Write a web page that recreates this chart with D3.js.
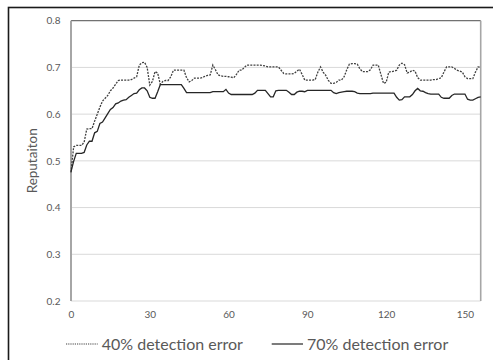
<!DOCTYPE html>
<html>
<head>
<meta charset="utf-8">
<script src="https://cdn.jsdelivr.net/npm/d3@7"></script>
<style>
  html, body { margin: 0; padding: 0; background: #fff; }
  svg { display: block; }
  text { font-family: Lato, "Open Sans", sans-serif; }
</style>
</head>
<body>
<svg id="chart" width="493" height="360"></svg>
<script>
// Reputation per round, 0..156
const rounds = d3.range(0, 157);

const rep40 = [
  0.475, 0.530, 0.533, 0.533, 0.533, 0.540, 0.568, 0.569, 0.569, 0.585,
  0.600, 0.615, 0.628, 0.634, 0.640, 0.650, 0.656, 0.664, 0.672, 0.673,
  0.673, 0.673, 0.673, 0.674, 0.677, 0.680, 0.705, 0.710, 0.711, 0.700,
  0.662, 0.670, 0.691, 0.688, 0.664, 0.670, 0.672, 0.672, 0.680, 0.694,
  0.694, 0.694, 0.694, 0.694, 0.678, 0.669, 0.672, 0.677, 0.677, 0.677,
  0.678, 0.681, 0.683, 0.684, 0.705, 0.695, 0.684, 0.682, 0.681, 0.681,
  0.680, 0.679, 0.678, 0.685, 0.694, 0.694, 0.700, 0.705, 0.705, 0.705,
  0.705, 0.705, 0.705, 0.704, 0.703, 0.701, 0.701, 0.701, 0.701, 0.701,
  0.694, 0.687, 0.686, 0.686, 0.686, 0.687, 0.692, 0.696, 0.685, 0.673,
  0.673, 0.673, 0.673, 0.674, 0.690, 0.701, 0.690, 0.683, 0.672, 0.666,
  0.666, 0.668, 0.673, 0.673, 0.680, 0.695, 0.707, 0.708, 0.708, 0.707,
  0.697, 0.691, 0.691, 0.691, 0.695, 0.705, 0.705, 0.705, 0.685, 0.666,
  0.668, 0.690, 0.691, 0.692, 0.694, 0.705, 0.709, 0.706, 0.688, 0.690,
  0.694, 0.692, 0.678, 0.673, 0.673, 0.673, 0.673, 0.673, 0.674, 0.674,
  0.676, 0.678, 0.690, 0.701, 0.701, 0.701, 0.698, 0.694, 0.692, 0.690,
  0.680, 0.676, 0.676, 0.676, 0.690, 0.701, 0.700
];

const rep70 = [
  0.477, 0.499, 0.516, 0.516, 0.516, 0.518, 0.534, 0.542, 0.542, 0.560,
  0.563, 0.580, 0.583, 0.592, 0.601, 0.610, 0.614, 0.622, 0.624, 0.628,
  0.630, 0.631, 0.636, 0.640, 0.644, 0.645, 0.652, 0.656, 0.656, 0.650,
  0.636, 0.634, 0.634, 0.648, 0.663, 0.663, 0.663, 0.663, 0.663, 0.663,
  0.663, 0.663, 0.663, 0.655, 0.646, 0.646, 0.646, 0.646, 0.646, 0.646,
  0.646, 0.646, 0.646, 0.646, 0.648, 0.648, 0.648, 0.648, 0.648, 0.653,
  0.645, 0.642, 0.642, 0.642, 0.642, 0.642, 0.642, 0.642, 0.642, 0.642,
  0.645, 0.651, 0.651, 0.651, 0.651, 0.644, 0.637, 0.637, 0.650, 0.651,
  0.651, 0.651, 0.651, 0.647, 0.642, 0.642, 0.647, 0.649, 0.649, 0.648,
  0.651, 0.651, 0.651, 0.651, 0.651, 0.651, 0.651, 0.651, 0.651, 0.651,
  0.646, 0.644, 0.646, 0.647, 0.648, 0.649, 0.649, 0.649, 0.648, 0.645,
  0.644, 0.644, 0.644, 0.644, 0.644, 0.645, 0.645, 0.645, 0.645, 0.645,
  0.645, 0.645, 0.645, 0.645, 0.636, 0.630, 0.631, 0.637, 0.637, 0.637,
  0.642, 0.650, 0.655, 0.650, 0.649, 0.646, 0.644, 0.643, 0.643, 0.643,
  0.643, 0.636, 0.634, 0.634, 0.634, 0.640, 0.643, 0.643, 0.643, 0.643,
  0.643, 0.632, 0.630, 0.630, 0.633, 0.636, 0.637
];

const yTicks = [0.2, 0.3, 0.4, 0.5, 0.6, 0.7, 0.8];
const xTicks = [0, 30, 60, 90, 120, 150];
const seriesNames = ["40% detection error", "70% detection error"];

const svg = d3.select("#chart");

// outer chart frame (only its top/left edges fall inside the view)
svg.append("rect")
  .attr("x", 8.5).attr("y", 7.5)
  .attr("width", 600).attr("height", 600)
  .attr("fill", "none")
  .attr("stroke", "#1a1a1a")
  .attr("stroke-width", 1.6);

const plotL = 71, plotR = 480.7, plotT = 20.7, plotB = 301;

const x = d3.scaleLinear().domain([0, 156]).range([plotL, plotR]);
const y = d3.scaleLinear().domain([0.2, 0.8]).range([plotB, plotT]);

// horizontal gridlines
svg.append("g")
  .selectAll("line")
  .data(yTicks)
  .join("line")
  .attr("x1", plotL).attr("x2", plotR)
  .attr("y1", d => y(d)).attr("y2", d => y(d))
  .attr("stroke", "#d9d9d9")
  .attr("stroke-width", 1);

// plot-area border: top and right edges
svg.append("line")
  .attr("x1", plotL).attr("x2", plotR)
  .attr("y1", y(0.8)).attr("y2", y(0.8))
  .attr("stroke", "#595959").attr("stroke-width", 1);
svg.append("line")
  .attr("x1", plotR).attr("x2", plotR)
  .attr("y1", plotT).attr("y2", plotB)
  .attr("stroke", "#a6a6a6").attr("stroke-width", 1.6);

// axes
const yAxis = svg.append("g")
  .attr("transform", `translate(${plotL},0)`)
  .call(d3.axisLeft(y).tickValues(yTicks).tickFormat(d3.format(".1f")).tickSize(0).tickPadding(10.5));
yAxis.select(".domain").remove();

const xAxis = svg.append("g")
  .attr("transform", `translate(0,${plotB})`)
  .call(d3.axisBottom(x).tickValues(xTicks).tickFormat(d3.format("d")).tickSize(0).tickPadding(10));
xAxis.select(".domain").remove();

svg.selectAll(".tick text")
  .attr("fill", "#595959")
  .style("font-size", "10px")
  .style("font-family", "Lato, 'Open Sans', sans-serif");

// left axis line
svg.append("line")
  .attr("x1", plotL).attr("x2", plotL)
  .attr("y1", plotT).attr("y2", plotB)
  .attr("stroke", "#a6a6a6").attr("stroke-width", 2);

// y-axis title
svg.append("text")
  .attr("transform", `translate(36.5,${(plotT + plotB) / 2}) rotate(-90)`)
  .attr("text-anchor", "middle")
  .attr("fill", "#595959")
  .style("font-size", "13.5px")
  .text("Reputaiton");

const line = d3.line()
  .x((d, i) => x(rounds[i]))
  .y(d => y(d));

svg.append("path")
  .datum(rep40)
  .attr("d", line)
  .attr("fill", "none")
  .attr("stroke", "#404040")
  .attr("stroke-width", 1.3)
  .attr("stroke-dasharray", "2,1.2");

svg.append("path")
  .datum(rep70)
  .attr("d", line)
  .attr("fill", "none")
  .attr("stroke", "#262626")
  .attr("stroke-width", 1.3);

// legend
const legend = [
  { name: seriesNames[0], x0: 66, x1: 97.7, dash: "1.2,1", color: "#404040" },
  { name: seriesNames[1], x0: 271.7, x1: 303, dash: null, color: "#262626" }
];
const lg = svg.append("g");
legend.forEach(l => {
  lg.append("line")
    .attr("x1", l.x0).attr("x2", l.x1)
    .attr("y1", 344).attr("y2", 344)
    .attr("stroke", l.color)
    .attr("stroke-width", 1.2)
    .attr("stroke-dasharray", l.dash);
  lg.append("text")
    .attr("x", l.x1 + 4)
    .attr("y", 350)
    .attr("fill", "#595959")
    .style("font-size", "16px")
    .text(l.name);
});
</script>
</body>
</html>
